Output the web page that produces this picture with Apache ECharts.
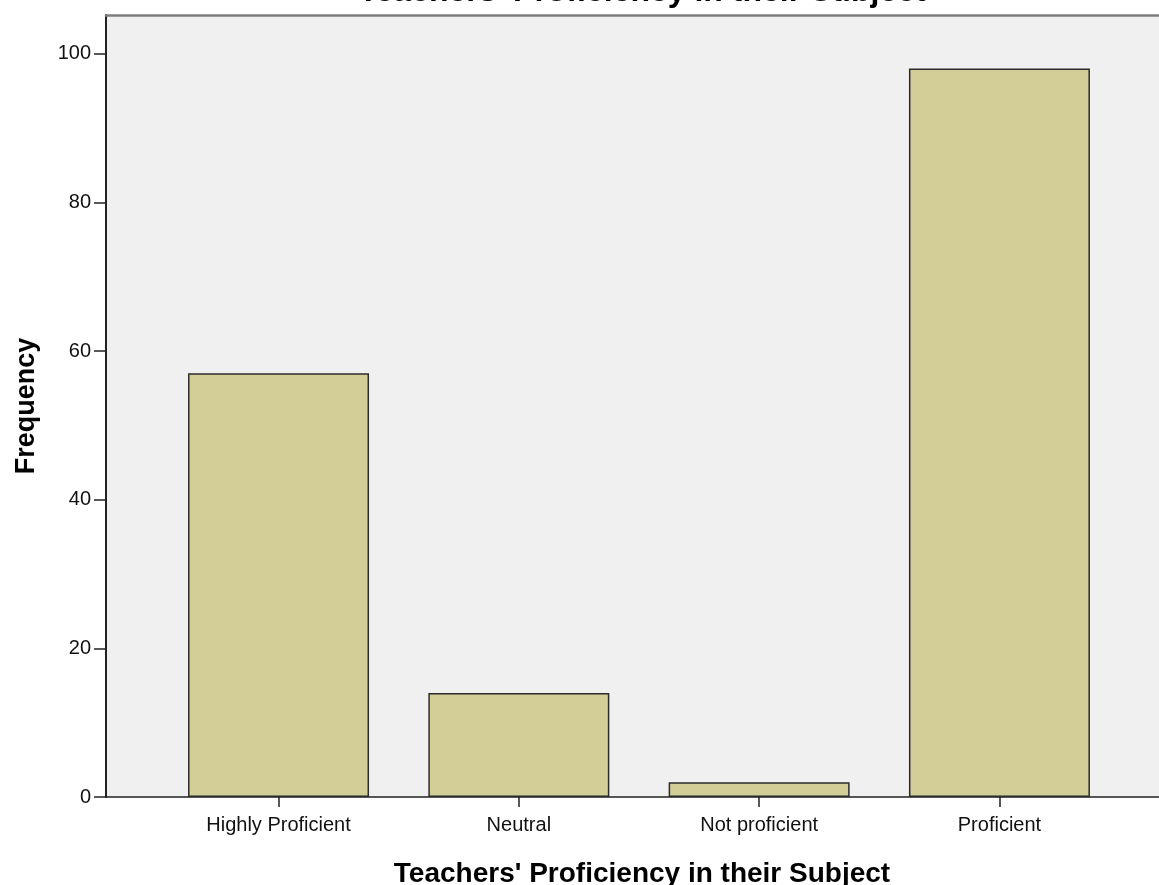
<!DOCTYPE html>
<html>
<head>
<meta charset="utf-8">
<script src="https://cdn.jsdelivr.net/npm/echarts@6/dist/echarts.min.js"></script>
<style>
html,body{margin:0;padding:0;background:#fff;}
#chart{width:1159px;height:885px;}
</style>
</head>
<body>
<div id="chart"></div>
<script>
const categories = ['Highly Proficient', 'Neutral', 'Not proficient', 'Proficient'];
const frequencies = [57, 14, 2, 98];
const yTicks = [0, 20, 40, 60, 80, 100];
const chartTitle = "Teachers' Proficiency in their Subject";
const xTitle = "Teachers' Proficiency in their Subject";
const yTitle = 'Frequency';

const FONT = '"Liberation Sans", Arial, sans-serif';
const catIndex = categories.map((c, i) => i);
const barData = frequencies.map((v, i) => [i, v]);
const X_MIN = -0.718, X_MAX = 3.664;

const chart = echarts.init(document.getElementById('chart'), null, {renderer: 'canvas'});
chart.setOption({
  animation: false,
  backgroundColor: '#ffffff',
  title: [
    {
      text: chartTitle,
      left: 637, top: -29, textAlign: 'center',
      textStyle: {fontFamily: FONT, fontSize: 32, fontWeight: 'bold', color: '#000'}
    },
    {
      text: xTitle,
      left: 637, top: 855, textAlign: 'center',
      textStyle: {fontFamily: FONT, fontSize: 28, fontWeight: 'bold', color: '#000'}
    }
  ],
  grid: {
    left: 106, top: 15, right: 0, height: 782,
    show: true, backgroundColor: '#f0f0f0', borderWidth: 0
  },
  xAxis: [
    {
      type: 'value',
      min: X_MIN, max: X_MAX,
      splitLine: {show: false},
      axisLine: {show: true, onZero: false, lineStyle: {color: '#222', width: 1.5}},
      axisTick: {show: true, length: 10, customValues: catIndex, lineStyle: {color: '#222', width: 1.5}},
      axisLabel: {
        customValues: catIndex, margin: 18,
        formatter: v => categories[Math.round(v)] || '',
        fontFamily: FONT, fontSize: 20, color: '#111'
      }
    },
    {
      type: 'value', position: 'top',
      min: X_MIN, max: X_MAX,
      splitLine: {show: false},
      axisLine: {show: true, onZero: false, lineStyle: {color: '#7d7d7d', width: 2.5}},
      axisTick: {show: false},
      axisLabel: {show: false}
    }
  ],
  yAxis: {
    type: 'value',
    min: 0, max: 105.2, interval: 20,
    name: yTitle, nameLocation: 'middle', nameRotate: 90, nameGap: 66,
    nameTextStyle: {fontFamily: FONT, fontSize: 27, fontWeight: 'bold', color: '#000'},
    splitLine: {show: false},
    axisLine: {show: true, onZero: false, lineStyle: {color: '#222', width: 2}},
    axisTick: {show: true, length: 12, customValues: yTicks, lineStyle: {color: '#222', width: 1.5}},
    axisLabel: {customValues: yTicks, margin: 15, fontFamily: FONT, fontSize: 20, color: '#111'}
  },
  series: [{
    type: 'bar',
    xAxisIndex: 0,
    data: barData,
    barWidth: 181,
    itemStyle: {color: '#d3ce97', borderColor: '#2b2b2b', borderWidth: 1.5}
  }]
});
</script>
</body>
</html>
